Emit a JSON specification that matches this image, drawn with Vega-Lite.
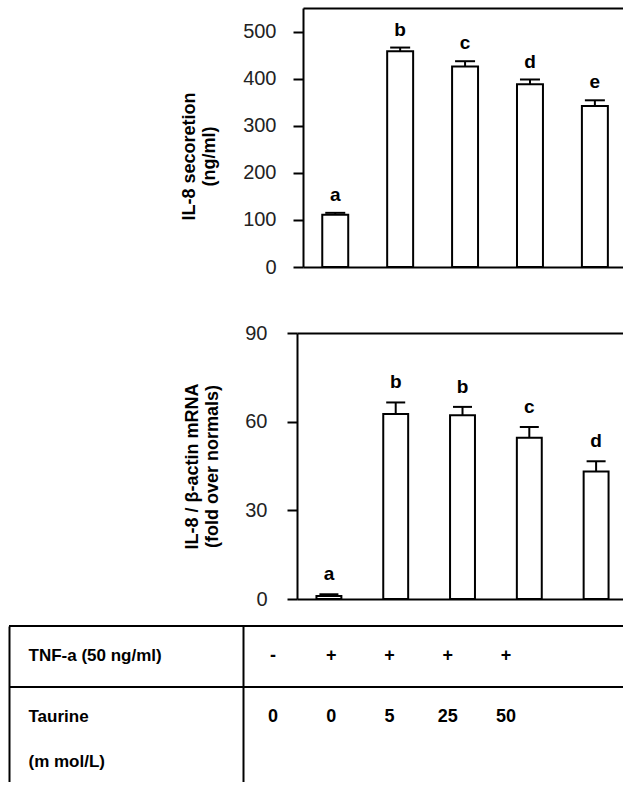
{
  "$schema": "https://vega.github.io/schema/vega-lite/v6.json",
  "padding": {"left": 8, "top": 8, "right": 0, "bottom": 0},
  "spacing": 16,
  "config": {"view": {"stroke": null}, "font": "Liberation Sans", "axis": {"grid": false}},
  "datasets": {
    "secretion": [
      {"cond": "Control", "mean": 111, "upper": 115, "letter": "a"},
      {"cond": "TNF-a", "mean": 458, "upper": 466, "letter": "b"},
      {"cond": "TNF-a + Taurine 5", "mean": 426, "upper": 437, "letter": "c"},
      {"cond": "TNF-a + Taurine 25", "mean": 388, "upper": 398, "letter": "d"},
      {"cond": "TNF-a + Taurine 50", "mean": 342, "upper": 354, "letter": "e"}
    ],
    "mrna": [
      {"cond": "Control", "mean": 1.0, "upper": 1.6, "letter": "a"},
      {"cond": "TNF-a", "mean": 62.6, "upper": 66.5, "letter": "b"},
      {"cond": "TNF-a + Taurine 5", "mean": 62.2, "upper": 65.0, "letter": "b"},
      {"cond": "TNF-a + Taurine 25", "mean": 54.6, "upper": 58.2, "letter": "c"},
      {"cond": "TNF-a + Taurine 50", "mean": 43.1, "upper": 46.6, "letter": "d"}
    ],
    "table": [
      {"row": "TNF-a (50 ng/ml)", "cond": "Control", "val": "-"},
      {"row": "TNF-a (50 ng/ml)", "cond": "TNF-a", "val": "+"},
      {"row": "TNF-a (50 ng/ml)", "cond": "TNF-a + Taurine 5", "val": "+"},
      {"row": "TNF-a (50 ng/ml)", "cond": "TNF-a + Taurine 25", "val": "+"},
      {"row": "TNF-a (50 ng/ml)", "cond": "TNF-a + Taurine 50", "val": "+"},
      {"row": "Taurine", "cond": "Control", "val": "0"},
      {"row": "Taurine", "cond": "TNF-a", "val": "0"},
      {"row": "Taurine", "cond": "TNF-a + Taurine 5", "val": "5"},
      {"row": "Taurine", "cond": "TNF-a + Taurine 25", "val": "25"},
      {"row": "Taurine", "cond": "TNF-a + Taurine 50", "val": "50"}
    ]
  },
  "vconcat": [
    {
      "width": 614,
      "height": 259,
      "data": {"name": "secretion"},
      "layer": [
        {
          "mark": {"type": "bar", "fill": "white", "stroke": "black", "strokeWidth": 2},
          "encoding": {
            "x": {"field": "cond", "type": "nominal", "sort": null,
              "scale": {"range": [294, 614], "paddingInner": 0.6, "paddingOuter": 0.265, "align": 0.56},
              "axis": {"orient": "bottom", "title": null, "labels": false, "ticks": false, "domainColor": "black", "domainWidth": 2, "minExtent": 40, "maxExtent": 40}},
            "y": {"field": "mean", "type": "quantitative", "scale": {"domain": [0, 550], "nice": false},
              "axis": {"orient": "left", "offset": -294, "values": [0, 100, 200, 300, 400, 500],
                "title": ["IL-8 secoretion", "(ng/ml)"],
                "tickSize": 10, "tickWidth": 2, "tickColor": "black", "domainColor": "black", "domainWidth": 2,
                "labelFontSize": 20, "labelColor": "#222", "labelPadding": 17,
                "titleFontSize": 18, "titleFontWeight": "bold", "titleColor": "black", "titleLineHeight": 20,
                "titlePadding": 24, "titleY": 148, "grid": false}}
          }
        },
        {
          "mark": {"type": "rule", "color": "black", "strokeWidth": 2},
          "encoding": {
            "x": {"field": "cond", "type": "nominal", "sort": null,
              "axis": {"orient": "top", "title": null, "labels": false, "ticks": false, "domainColor": "black", "domainWidth": 2, "minExtent": 0, "maxExtent": 0}},
            "y": {"field": "mean", "type": "quantitative"},
            "y2": {"field": "upper"}
          }
        },
        {
          "mark": {"type": "tick", "color": "black", "thickness": 2, "size": 20, "opacity": 1},
          "encoding": {
            "x": {"field": "cond", "type": "nominal", "sort": null, "axis": null},
            "y": {"field": "upper", "type": "quantitative"}
          }
        },
        {
          "mark": {"type": "text", "fontSize": 19, "fontWeight": "bold", "dy": -12, "baseline": "alphabetic", "color": "black"},
          "encoding": {
            "x": {"field": "cond", "type": "nominal", "sort": null, "axis": null},
            "y": {"field": "upper", "type": "quantitative"},
            "text": {"field": "letter"}
          }
        }
      ],
      "resolve": {"axis": {"x": "independent"}}
    },
    {
      "width": 614,
      "height": 266,
      "data": {"name": "mrna"},
      "layer": [
        {
          "mark": {"type": "bar", "fill": "white", "stroke": "black", "strokeWidth": 2},
          "encoding": {
            "x": {"field": "cond", "type": "nominal", "sort": null,
              "scale": {"range": [288, 614], "paddingInner": 0.627, "paddingOuter": 0.2537, "align": 0.574},
              "axis": {"orient": "bottom", "title": null, "labels": false, "ticks": false, "domainColor": "black", "domainWidth": 2, "minExtent": 10, "maxExtent": 10}},
            "y": {"field": "mean", "type": "quantitative", "scale": {"domain": [0, 90], "nice": false},
              "axis": {"orient": "left", "offset": -288, "values": [0, 30, 60, 90],
                "title": ["IL-8 / β-actin mRNA", "(fold over normals)"],
                "tickSize": 10, "tickWidth": 2, "tickColor": "black", "domainColor": "black", "domainWidth": 2,
                "labelFontSize": 20, "labelColor": "#222", "labelPadding": 20,
                "titleFontSize": 18, "titleFontWeight": "bold", "titleColor": "black", "titleLineHeight": 20,
                "titlePadding": 23, "grid": false}}
          }
        },
        {
          "mark": {"type": "rule", "color": "black", "strokeWidth": 2},
          "encoding": {
            "x": {"field": "cond", "type": "nominal", "sort": null,
              "axis": {"orient": "top", "title": null, "labels": false, "ticks": false, "domainColor": "black", "domainWidth": 2, "minExtent": 0, "maxExtent": 0}},
            "y": {"field": "mean", "type": "quantitative"},
            "y2": {"field": "upper"}
          }
        },
        {
          "mark": {"type": "tick", "color": "black", "thickness": 2, "size": 19, "opacity": 1},
          "encoding": {
            "x": {"field": "cond", "type": "nominal", "sort": null, "axis": null},
            "y": {"field": "upper", "type": "quantitative"}
          }
        },
        {
          "mark": {"type": "text", "fontSize": 19, "fontWeight": "bold", "dy": -14, "baseline": "alphabetic", "color": "black"},
          "encoding": {
            "x": {"field": "cond", "type": "nominal", "sort": null, "axis": null},
            "y": {"field": "upper", "type": "quantitative"},
            "text": {"field": "letter"}
          }
        }
      ],
      "resolve": {"axis": {"x": "independent"}}
    },
    {
      "width": 614,
      "height": 156,
      "data": {"name": "table"},
      "layer": [
        {
          "mark": {"type": "rule", "color": "black", "strokeWidth": 2},
          "encoding": {
            "y": {"field": "row", "type": "nominal", "sort": null, "bandPosition": 0,
              "scale": {"type": "band", "paddingInner": 0, "paddingOuter": 0.279, "align": 0},
              "axis": {"orient": "left", "title": null, "ticks": false, "tickSize": 0, "domainColor": "black", "domainWidth": 2,
                "labelAlign": "left", "labelPadding": -19, "labelFontSize": 17, "labelFontWeight": "bold", "labelColor": "black",
                "labelLimit": 0, "labelLineHeight": 45, "labelBaseline": "middle",
                "labelExpr": "datum.value == 'Taurine' ? ['Taurine', '(m mol/L)'] : datum.value"}}
          }
        },
        {
          "mark": {"type": "text", "fontSize": 18, "fontWeight": "bold", "color": "black", "baseline": "middle"},
          "encoding": {
            "x": {"field": "cond", "type": "nominal", "sort": null, "scale": {"type": "point", "range": [264, 497], "padding": 0}, "axis": null},
            "y": {"field": "row", "type": "nominal", "sort": null,
              "axis": {"orient": "right", "offset": -380, "title": null, "labels": false, "ticks": false, "domainColor": "black", "domainWidth": 2}},
            "text": {"field": "val"}
          }
        }
      ],
      "resolve": {"axis": {"y": "independent"}}
    }
  ],
  "resolve": {"scale": {"x": "independent", "y": "independent"}}
}
